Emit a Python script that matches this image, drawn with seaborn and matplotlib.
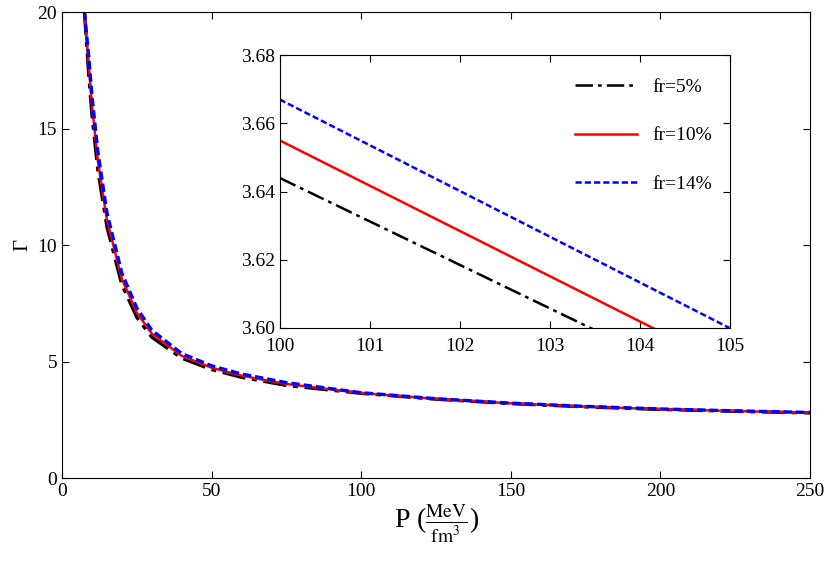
import matplotlib
matplotlib.use("Agg")
import matplotlib.pyplot as plt
import seaborn as sns
import pandas as pd

P_main = [7.5, 9, 10, 12, 15, 20, 25, 30, 40, 50, 60, 75, 100, 125, 150, 175, 200, 225, 250]
G_fr5 = [20.0, 17.2, 15.6, 13.2, 10.8, 8.3, 6.9, 6.05, 5.15, 4.66, 4.33, 3.98, 3.64, 3.39, 3.20, 3.06, 2.95, 2.87, 2.80]
G_fr10 = [20.0, 17.6, 16.0, 13.6, 11.1, 8.55, 7.1, 6.2, 5.25, 4.74, 4.40, 4.04, 3.655, 3.40, 3.21, 3.07, 2.96, 2.88, 2.81]
G_fr14 = [20.0, 18.0, 16.4, 14.0, 11.4, 8.8, 7.3, 6.35, 5.35, 4.82, 4.47, 4.10, 3.667, 3.41, 3.22, 3.08, 2.97, 2.89, 2.82]

P_inset = [100, 105]
I_fr5 = [3.644, 3.5803]
I_fr10 = [3.655, 3.5887]
I_fr14 = [3.667, 3.600]

labels = ["fr=5%", "fr=10%", "fr=14%"]
colors = ["black", "red", "blue"]
styles = [(0, (7, 2, 1.5, 2)), "-", (0, (2.5, 1.2))]

plt.rcParams["font.family"] = "Liberation Serif"
plt.rcParams["mathtext.fontset"] = "stix"
fig = plt.figure(figsize=(8.3, 5.72), dpi=100)
ax = fig.add_axes([0.0747, 0.164, 0.9013, 0.815])

for G, c, ls in zip([G_fr5, G_fr10, G_fr14], colors, styles):
    df = pd.DataFrame({"P": P_main, "G": G})
    sns.lineplot(data=df, x="P", y="G", ax=ax, color=c, linestyle=ls, lw=2.4 if c != "red" else 1.8)
ax.set_xlim(0, 250)
ax.set_ylim(0, 20)
ax.set_xticks([0, 50, 100, 150, 200, 250])
ax.set_yticks([0, 5, 10, 15, 20])
ax.set_xlabel(r"P ($\frac{\mathrm{MeV}}{\mathrm{fm}^3}$)", fontsize=20, labelpad=2)
ax.set_ylabel("Γ", fontsize=15)
ax.tick_params(direction="in", top=True, right=True, labelsize=14, length=5)

ins = fig.add_axes([0.337, 0.4266, 0.542, 0.477])
for G, c, ls, lab in zip([I_fr5, I_fr10, I_fr14], colors, styles, labels):
    df = pd.DataFrame({"P": P_inset, "G": G})
    sns.lineplot(data=df, x="P", y="G", ax=ins, color=c, linestyle=ls, lw=1.8, label=lab)
ins.set_xlim(100, 105)
ins.set_ylim(3.60, 3.68)
ins.set_xticks([100, 101, 102, 103, 104, 105])
ins.set_yticks([3.60, 3.62, 3.64, 3.66, 3.68])
ins.set_yticklabels(["3.60", "3.62", "3.64", "3.66", "3.68"])
ins.set_xlabel("")
ins.set_ylabel("")
ins.tick_params(direction="in", top=True, right=True, labelsize=14, length=5)
ins.tick_params(axis="x", pad=7)
ins.legend(loc="upper right", frameon=False, fontsize=14, handlelength=3.2, labelspacing=1.6,
           bbox_to_anchor=(1.0, 0.98))
fig.savefig("out.png", dpi=100)
